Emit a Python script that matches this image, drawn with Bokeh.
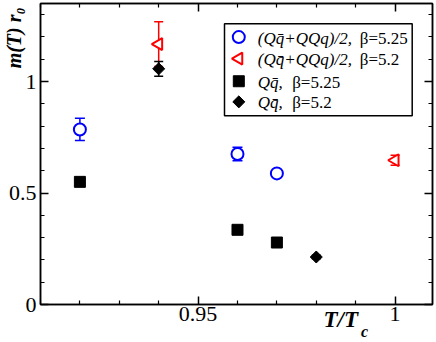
import math
from bokeh.plotting import figure
from bokeh.models import (Range1d, FixedTicker, NumeralTickFormatter, LinearAxis,
                          Whisker, TeeHead, ColumnDataSource, Label, BoxAnnotation,
                          CustomJSTickFormatter, Title)
from bokeh.embed import file_html
from bokeh.resources import INLINE

# ---- data ----
mix525_x = [0.92, 0.96, 0.97]
mix525_y = [0.785, 0.675, 0.588]
mix525_err = [0.05, 0.03, 0.015]

mix52_x = [0.94, 1.0]
mix52_y = [1.168, 0.647]
mix52_err = [0.1, 0.022]

qq525_x = [0.92, 0.96, 0.97]
qq525_y = [0.55, 0.335, 0.278]

qq52_x = [0.94, 0.98]
qq52_y = [1.057, 0.213]
qq52_err = [0.033, 0.008]

x_major = [0.90, 0.95, 1.0]
x_minor = [0.91, 0.92, 0.93, 0.94, 0.96, 0.97, 0.98, 0.99]
y_major = [0.0, 0.5, 1.0]
y_minor = [0.1, 0.2, 0.3, 0.4, 0.6, 0.7, 0.8, 0.9, 1.1, 1.2, 1.3]

legend_formula = ["(Qq\u0304+QQq)/2,", "(Qq\u0304+QQq)/2,", "Qq\u0304,", "Qq\u0304,"]
legend_beta = ["\u03b2=5.25", "\u03b2=5.2", "\u03b2=5.25", "\u03b2=5.2"]

BLUE = "#0000ff"
RED = "#ff0000"
SERIF = "'Liberation Serif'"

X0, X1 = 0.91, 1.0095
Y0, Y1 = 0.0, 1.35

# frame occupies x 40..432, y 3..305 of the 436x342 canvas
FL, FR, FT, FB = 40, 432, 3, 305

p = figure(width=436, height=342, x_range=Range1d(X0, X1), y_range=Range1d(Y0, Y1),
           output_backend="svg", toolbar_location=None,
           min_border_left=FL, min_border_right=436 - FR, min_border_top=FT,
           min_border_bottom=342 - FB)
p.xgrid.visible = False
p.ygrid.visible = False
p.outline_line_color = "black"
p.outline_line_width = 1.5
p.background_fill_color = "white"
p.border_fill_color = "white"

xt = FixedTicker(ticks=x_major, minor_ticks=x_minor)
yt = FixedTicker(ticks=y_major, minor_ticks=y_minor)

def style_axis(ax, ticker, standoff=None):
    ax.ticker = ticker
    ax.axis_line_color = "black"
    ax.axis_line_width = 1.5
    ax.major_tick_line_color = "black"
    ax.major_tick_line_width = 1.5
    ax.minor_tick_line_color = "black"
    ax.minor_tick_line_width = 1.2
    ax.major_tick_in = 8
    ax.major_tick_out = 0
    ax.minor_tick_in = 4
    ax.minor_tick_out = 0
    if standoff is not None:
        ax.formatter = NumeralTickFormatter(format="0.[00]")
        ax.major_label_text_font = SERIF
        ax.major_label_text_font_size = "22px"
        ax.major_label_text_color = "black"
        ax.major_label_standoff = standoff
    else:
        ax.formatter = CustomJSTickFormatter(code="return ''")
        ax.major_label_standoff = 0

xax = p.xaxis[0]
style_axis(xax, xt, 2)
style_axis(p.yaxis[0], yt, 4)
top_ax = LinearAxis()
right_ax = LinearAxis()
style_axis(top_ax, xt)
style_axis(right_ax, yt)
p.add_layout(top_ax, "above")
p.add_layout(right_ax, "right")

# subscript "c" of T/T_c as the (centred) x-axis label, shifted right by leading no-break spaces
NBSP = "\u00a0"
xax.axis_label = NBSP * 64 + "c"
xax.axis_label_standoff = -1
xax.axis_label_text_font = SERIF
xax.axis_label_text_font_style = "bold italic"
xax.axis_label_text_font_size = "16px"
xax.axis_label_text_color = "black"

# ---- error bars ----
def whisk(xs, ys, errs, color, head):
    src = ColumnDataSource(dict(x=xs, lo=[y - e for y, e in zip(ys, errs)],
                                hi=[y + e for y, e in zip(ys, errs)]))
    w = Whisker(source=src, base="x", lower="lo", upper="hi", dimension="height",
                line_color=color, line_width=1.5,
                upper_head=TeeHead(size=head, line_color=color, line_width=1.5),
                lower_head=TeeHead(size=head, line_color=color, line_width=1.5))
    w.level = "underlay"
    p.add_layout(w)

whisk(mix52_x, mix52_y, mix52_err, RED, 9)
whisk(mix525_x, mix525_y, mix525_err, BLUE, 10)
whisk(qq52_x, qq52_y, qq52_err, "black", 9)

# ---- marker styles ----
styles = [
    dict(marker="circle", size=12, line_color=BLUE, line_width=2, fill_color="white"),
    dict(marker="triangle", angle=math.pi / 2, size=12, line_color=RED, line_width=2,
         fill_color="white"),
    dict(marker="square", size=11, line_color="black", fill_color="black"),
    dict(marker="square", angle=math.pi / 4, size=8.5, line_color="black", fill_color="black"),
]

p.scatter(mix525_x, mix525_y, **styles[0])
p.scatter(mix52_x, mix52_y, **styles[1])
p.scatter(qq525_x, qq525_y, **styles[2])
p.scatter(qq52_x, qq52_y, **styles[3])

# ---- hand-made legend (positions in canvas pixels, converted to data units) ----
def px_x(px):
    return X0 + (px - FL) / (FR - FL) * (X1 - X0)

def px_y(py):
    return Y1 - (py - FT) / (FB - FT) * (Y1 - Y0)

p.add_layout(BoxAnnotation(left=px_x(224), right=px_x(411.7), top=px_y(23.3),
                           bottom=px_y(115.7), fill_color="white", fill_alpha=1.0,
                           line_color="black", line_alpha=1.0, line_width=1.5,
                           level="underlay"))
row_py = [36.7, 58.3, 81.0, 101.7]
beta_px = [359.3, 359.3, 291.7, 291.7]
for i in range(4):
    p.scatter([px_x(238.3)], [px_y(row_py[i])], **styles[i])
    p.add_layout(Label(x=px_x(257.3), y=px_y(row_py[i] + 1), text=legend_formula[i],
                       text_align="left", text_baseline="middle", text_font=SERIF,
                       text_font_style="italic", text_font_size="17px",
                       text_color="black", level="overlay"))
    p.add_layout(Label(x=px_x(beta_px[i]), y=px_y(row_py[i] + 1), text=legend_beta[i],
                       text_align="left", text_baseline="middle", text_font=SERIF,
                       text_font_style="normal", text_font_size="17px",
                       text_color="black", level="overlay"))

# ---- axis titles as side-panel titles ----
ytitle = Title(text="m(T) r\u2080", align="right", vertical_align="bottom", offset=4,
               standoff=-39, text_font=SERIF, text_font_style="bold italic",
               text_font_size="20px", text_color="black")
p.add_layout(ytitle, "left")

ttitle = Title(text="T/T", align="left", vertical_align="top", offset=283,
               standoff=-71, text_font=SERIF, text_font_style="bold italic",
               text_font_size="23px", text_color="black")
p.add_layout(ttitle, "below")

open("out.html", "w").write(file_html(p, INLINE))
